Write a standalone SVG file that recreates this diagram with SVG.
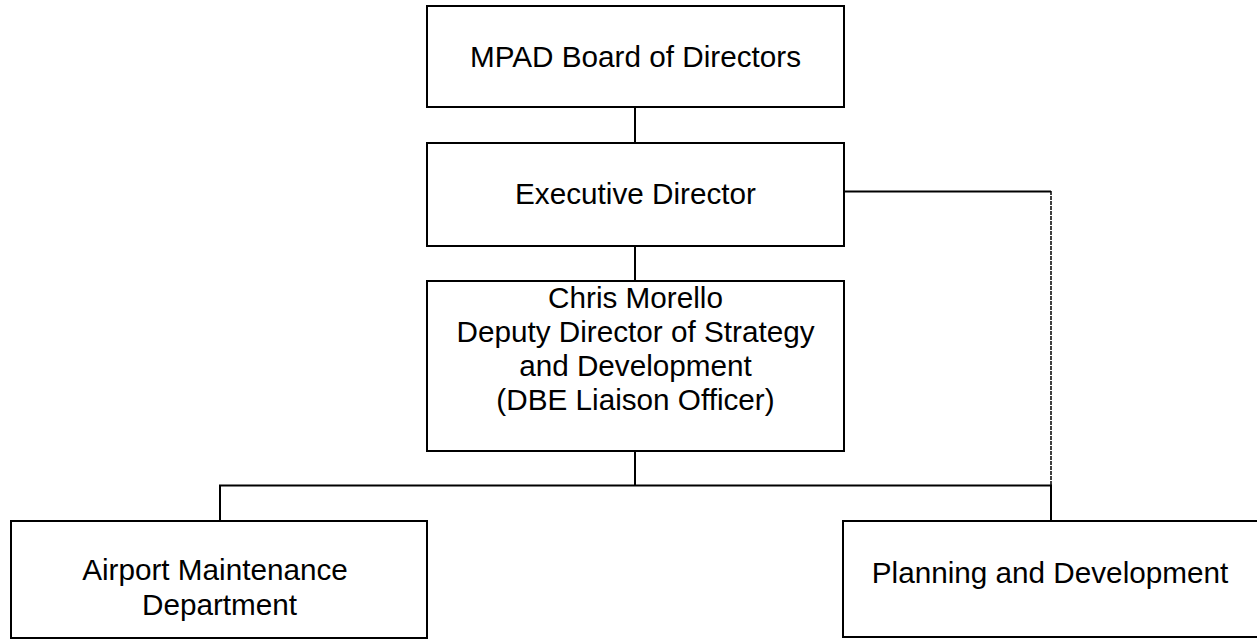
<svg xmlns="http://www.w3.org/2000/svg" width="1257" height="639" viewBox="0 0 1257 639">
<style>
.box{fill:#fff;stroke:#000;stroke-width:2}
.t{font-family:"Liberation Sans",Arial,sans-serif;font-size:29.7px;fill:#000;text-anchor:middle}
.c{fill:none;stroke:#000;stroke-width:2}
.d{fill:none;stroke:#000;stroke-width:1.5;stroke-dasharray:4,1}
</style>
<rect width="1257" height="639" fill="#fff"/>
<g id="connectors">
<line class="c" x1="635" y1="107" x2="635" y2="143"/>
<line class="c" x1="635" y1="246" x2="635" y2="281"/>
<polyline class="c" points="844,191.5 1051,191.5"/>
<line class="d" x1="1051" y1="191" x2="1051" y2="485"/>
<line class="c" x1="635" y1="451" x2="635" y2="485.5"/>
<polyline class="c" points="220,521 220,485.5 1051,485.5 1051,521"/>
</g>
<g id="board">
<rect class="box" x="427" y="6" width="417" height="101"/>
<text class="t" x="635.5" y="67">MPAD Board of Directors</text>
</g>
<g id="exec">
<rect class="box" x="427" y="143" width="417" height="103"/>
<text class="t" x="635.5" y="204">Executive Director</text>
</g>
<g id="deputy">
<rect class="box" x="427" y="281" width="417" height="170"/>
<text class="t" x="635.5" y="308">Chris Morello</text>
<text class="t" x="635.5" y="342">Deputy Director of Strategy</text>
<text class="t" x="635.5" y="376">and Development</text>
<text class="t" x="635.5" y="410">(DBE Liaison Officer)</text>
</g>
<g id="maintenance">
<rect class="box" x="11" y="521" width="416" height="117"/>
<text class="t" x="215" y="580">Airport Maintenance</text>
<text class="t" x="219.5" y="615">Department</text>
</g>
<g id="planning">
<rect class="box" x="843" y="521" width="420" height="116"/>
<text class="t" x="1050" y="583">Planning and Development</text>
</g>
</svg>
